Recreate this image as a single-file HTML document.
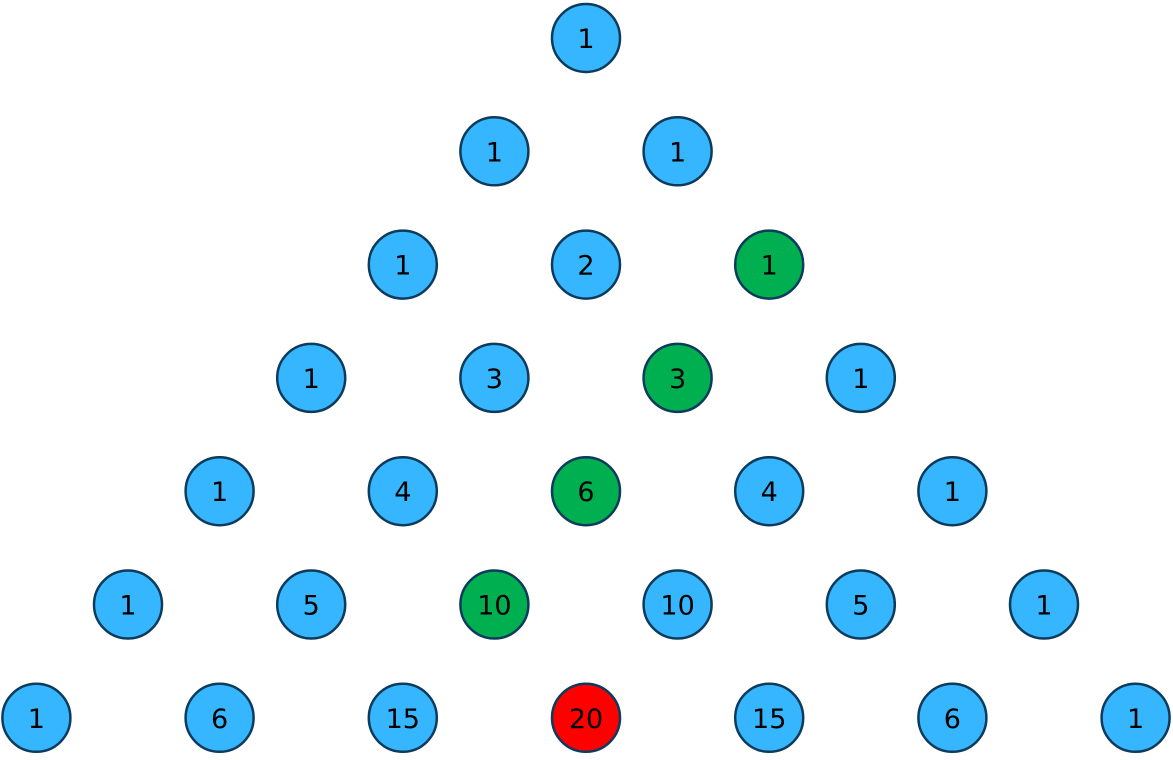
<!DOCTYPE html>
<html><head><style>body{margin:0;background:#fff}</style></head><body>
<svg width="1173" height="755" xmlns="http://www.w3.org/2000/svg">
<g stroke="#0d3b5c" stroke-width="2.5">
<circle cx="586" cy="38" r="34" fill="#36b6ff"/>
<circle cx="494.4" cy="151.3" r="34" fill="#36b6ff"/><circle cx="677.6" cy="151.3" r="34" fill="#36b6ff"/>
<circle cx="402.8" cy="264.6" r="34" fill="#36b6ff"/><circle cx="586" cy="264.6" r="34" fill="#36b6ff"/><circle cx="769.2" cy="264.6" r="34" fill="#00b050"/>
<circle cx="311.2" cy="377.9" r="34" fill="#36b6ff"/><circle cx="494.4" cy="377.9" r="34" fill="#36b6ff"/><circle cx="677.6" cy="377.9" r="34" fill="#00b050"/><circle cx="860.8" cy="377.9" r="34" fill="#36b6ff"/>
<circle cx="219.6" cy="491.2" r="34" fill="#36b6ff"/><circle cx="402.8" cy="491.2" r="34" fill="#36b6ff"/><circle cx="586" cy="491.2" r="34" fill="#00b050"/><circle cx="769.2" cy="491.2" r="34" fill="#36b6ff"/><circle cx="952.4" cy="491.2" r="34" fill="#36b6ff"/>
<circle cx="128" cy="604.5" r="34" fill="#36b6ff"/><circle cx="311.2" cy="604.5" r="34" fill="#36b6ff"/><circle cx="494.4" cy="604.5" r="34" fill="#00b050"/><circle cx="677.6" cy="604.5" r="34" fill="#36b6ff"/><circle cx="860.8" cy="604.5" r="34" fill="#36b6ff"/><circle cx="1044" cy="604.5" r="34" fill="#36b6ff"/>
<circle cx="36.4" cy="717.8" r="34" fill="#36b6ff"/><circle cx="219.6" cy="717.8" r="34" fill="#36b6ff"/><circle cx="402.8" cy="717.8" r="34" fill="#36b6ff"/><circle cx="586" cy="717.8" r="34" fill="#ff0000"/><circle cx="769.2" cy="717.8" r="34" fill="#36b6ff"/><circle cx="952.4" cy="717.8" r="34" fill="#36b6ff"/><circle cx="1135.6" cy="717.8" r="34" fill="#36b6ff"/>
</g>
<g fill="#000" style="font-family:'DejaVu Sans',sans-serif;font-size:27px;text-anchor:middle">
<text x="586" y="48">1</text>
<text x="494.4" y="161.3">1</text><text x="677.6" y="161.3">1</text>
<text x="402.8" y="274.6">1</text><text x="586" y="274.6">2</text><text x="769.2" y="274.6">1</text>
<text x="311.2" y="387.9">1</text><text x="494.4" y="387.9">3</text><text x="677.6" y="387.9">3</text><text x="860.8" y="387.9">1</text>
<text x="219.6" y="501.2">1</text><text x="402.8" y="501.2">4</text><text x="586" y="501.2">6</text><text x="769.2" y="501.2">4</text><text x="952.4" y="501.2">1</text>
<text x="128" y="614.5">1</text><text x="311.2" y="614.5">5</text><text x="494.4" y="614.5">10</text><text x="677.6" y="614.5">10</text><text x="860.8" y="614.5">5</text><text x="1044" y="614.5">1</text>
<text x="36.4" y="727.8">1</text><text x="219.6" y="727.8">6</text><text x="402.8" y="727.8">15</text><text x="586" y="727.8">20</text><text x="769.2" y="727.8">15</text><text x="952.4" y="727.8">6</text><text x="1135.6" y="727.8">1</text>
</g>
</svg>
</body></html>
